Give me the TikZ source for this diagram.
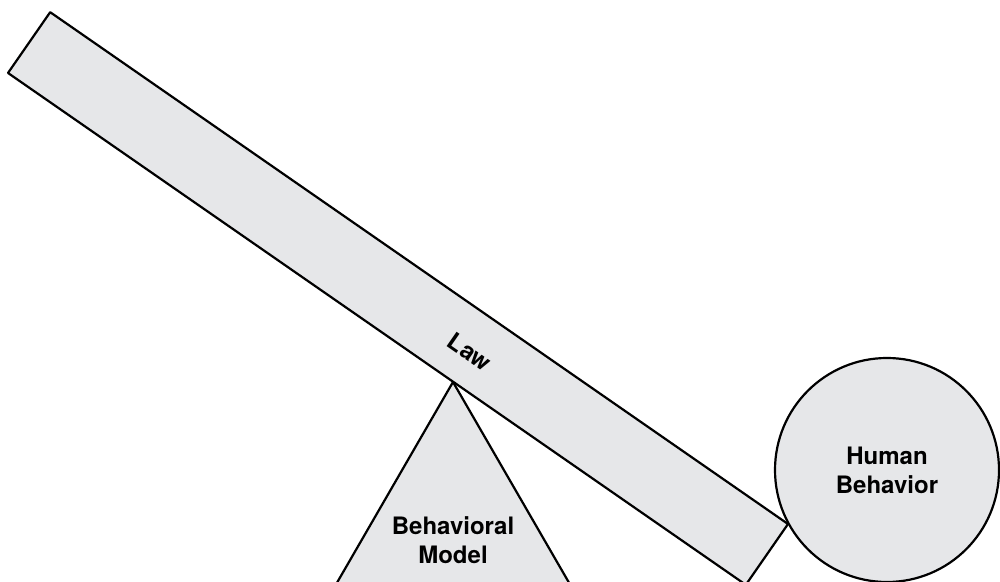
\documentclass[tikz,border=0pt]{standalone}
\usepackage{fontspec}
\setsansfont{TeX Gyre Heros}
\usetikzlibrary{positioning}
\definecolor{plankgray}{RGB}{230,231,233}

\begin{document}
\begin{tikzpicture}[x=0.5pt,y=-0.5pt,line width=1.1pt,
    every node/.style={font=\sffamily\bfseries\fontsize{12}{14.5}\selectfont, align=center},
    shape fill/.style={draw=black, fill=plankgray, line join=round}]
  \useasboundingbox (0,0) rectangle (1000,582);
  \clip (0,0) rectangle (1000,582);
  % fulcrum
  \coordinate (apex) at (453,382);
  \draw[shape fill] (apex) -- (327,600) -- (579,600) -- cycle;
  \node (model) at (453,540) {Behavioral\\Model};
  % the plank
  \node[shape fill, rotate=-34.75, minimum width=449pt, minimum height=37pt, inner sep=0pt] (plank) at (398,298.5) {};
  \node[rotate=-34.75] (law) at (470,352) {Law};
  % weight
  \node[shape fill, circle, minimum size=112pt, inner sep=0pt] (human) at (887,470) {Human\\Behavior};
\end{tikzpicture}
\end{document}
